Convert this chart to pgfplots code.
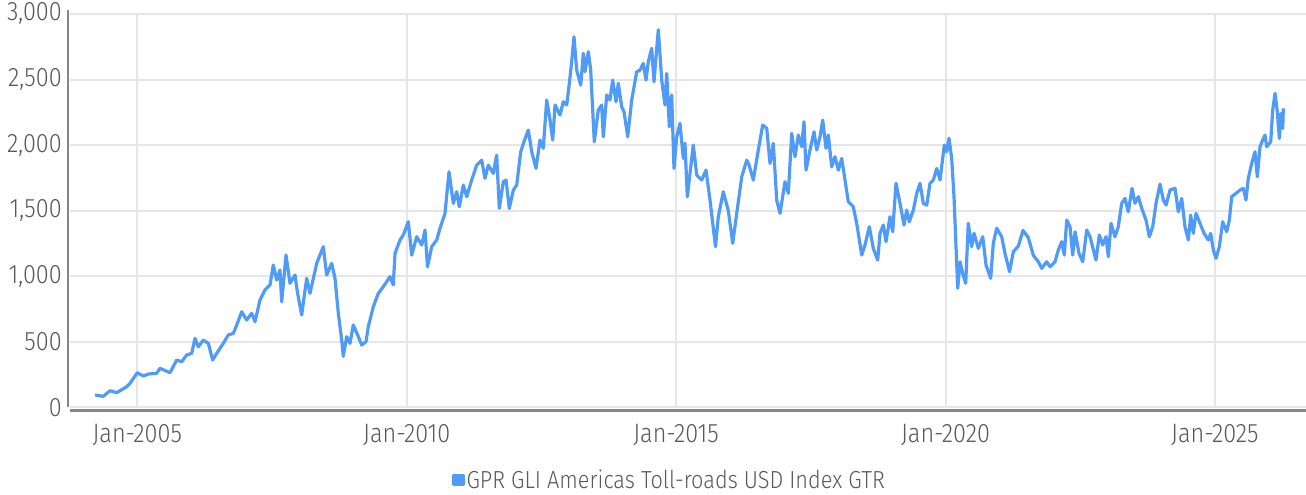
\documentclass[border=0pt]{standalone}
\usepackage{pgfplots}
\pgfplotsset{compat=1.18}
\usepackage{fontspec}
\setmainfont{Fira Sans}[UprightFont=* Light, FakeStretch=0.88]
\definecolor{lineblue}{HTML}{4F9BF7}
\definecolor{txt}{HTML}{595959}
\definecolor{gridc}{HTML}{E6E6E6}
\definecolor{axl}{HTML}{868686}
\begin{document}
\begin{tikzpicture}
\begin{axis}[
  name=ax,
  scale only axis, width=927pt, height=295.125pt,
  xmin=2003.751, xmax=2026.691, ymin=0, ymax=3000,
  axis line style={draw=none},
  major tick length=0pt,
  xtick={2005,2010,2015,2020,2025},
  xticklabels={Jan-2005,Jan-2010,Jan-2015,Jan-2020,Jan-2025},
  ytick={0,500,...,3000},
  scaled y ticks=false,
  /pgf/number format/.cd, 1000 sep={,}, assume math mode=true, /pgfplots/.cd,
  grid=major, grid style={color=gridc, line width=1.5pt},
  tick label style={font=\fontsize{20}{24}\selectfont, text=txt},
  xticklabel style={inner sep=0pt, yshift=-12.5pt},
  yticklabel style={inner sep=0pt, xshift=-6pt},
  legend style={at={(axis description cs:0.485,0)}, anchor=center, yshift=-54.4pt,
    draw=none, fill=none, font=\fontsize{18.5}{22}\selectfont, text=txt,
    inner sep=0pt, nodes={inner sep=1.5pt}},
  legend image code/.code={\fill[lineblue] (0pt,-3.5pt) rectangle (7pt,3.5pt);},
]
\addplot[lineblue, line width=2.4pt, line join=round] table {
x y
2004.215 95
2004.369 85
2004.493 128
2004.618 113
2004.803 159
2004.865 184
2005.000 265
2005.111 240
2005.204 255
2005.360 261
2005.421 299
2005.607 265
2005.731 362
2005.824 349
2005.917 400
2006.010 413
2006.071 527
2006.132 463
2006.225 514
2006.318 489
2006.399 362
2006.474 413
2006.596 489
2006.689 553
2006.782 565
2006.845 629
2006.938 730
2007.030 667
2007.123 718
2007.185 654
2007.277 819
2007.370 896
2007.463 934
2007.524 1086
2007.587 972
2007.648 1048
2007.680 806
2007.760 1162
2007.834 947
2007.927 1010
2007.970 883
2008.051 705
2008.144 985
2008.205 870
2008.330 1099
2008.452 1226
2008.515 1010
2008.608 1099
2008.669 985
2008.731 718
2008.794 514
2008.823 390
2008.886 540
2008.948 489
2009.009 629
2009.102 540
2009.165 476
2009.245 502
2009.287 616
2009.380 768
2009.473 870
2009.566 921
2009.690 997
2009.751 934
2009.783 1175
2009.876 1277
2009.937 1315
2010.030 1416
2010.093 1162
2010.186 1302
2010.279 1239
2010.340 1353
2010.386 1073
2010.464 1226
2010.557 1277
2010.618 1366
2010.711 1480
2010.785 1797
2010.865 1556
2010.928 1645
2010.976 1530
2011.051 1696
2011.114 1607
2011.206 1734
2011.299 1848
2011.392 1886
2011.453 1747
2011.515 1848
2011.607 1785
2011.670 1924
2011.719 1518
2011.793 1721
2011.843 1734
2011.904 1518
2011.979 1658
2012.042 1696
2012.116 1950
2012.177 2026
2012.257 2115
2012.320 1950
2012.400 1823
2012.474 2039
2012.535 1976
2012.598 2344
2012.660 2191
2012.710 2039
2012.753 2306
2012.845 2230
2012.907 2331
2012.970 2306
2013.018 2471
2013.062 2636
2013.105 2826
2013.155 2572
2013.230 2458
2013.278 2700
2013.309 2560
2013.371 2712
2013.415 2572
2013.482 2026
2013.556 2268
2013.619 2306
2013.649 2064
2013.712 2382
2013.773 2344
2013.823 2496
2013.885 2331
2013.927 2471
2013.990 2293
2014.033 2255
2014.102 2064
2014.176 2344
2014.269 2560
2014.330 2572
2014.391 2623
2014.442 2496
2014.484 2636
2014.547 2738
2014.590 2483
2014.627 2674
2014.670 2880
2014.733 2496
2014.794 2306
2014.826 2547
2014.874 2140
2014.918 2382
2014.961 1823
2015.011 2064
2015.072 2166
2015.134 1899
2015.165 2014
2015.208 1607
2015.319 2001
2015.383 1772
2015.475 1734
2015.555 1810
2015.629 1582
2015.731 1226
2015.783 1454
2015.876 1645
2015.969 1500
2016.051 1252
2016.125 1480
2016.218 1759
2016.311 1886
2016.353 1850
2016.433 1734
2016.526 1963
2016.607 2153
2016.682 2128
2016.743 1861
2016.804 2014
2016.867 1582
2016.929 1480
2017.021 1721
2017.083 1633
2017.146 2090
2017.207 1912
2017.268 2077
2017.331 1988
2017.374 2179
2017.411 1810
2017.485 1963
2017.560 2102
2017.610 1963
2017.671 2064
2017.721 2191
2017.782 1976
2017.825 2077
2017.888 1835
2017.949 1912
2018.011 1810
2018.074 1899
2018.135 1734
2018.196 1569
2018.289 1530
2018.352 1404
2018.445 1162
2018.506 1239
2018.586 1378
2018.660 1213
2018.742 1124
2018.785 1328
2018.846 1391
2018.896 1264
2018.970 1454
2019.020 1340
2019.081 1709
2019.156 1556
2019.230 1391
2019.280 1505
2019.328 1416
2019.403 1505
2019.466 1633
2019.527 1709
2019.588 1556
2019.651 1543
2019.712 1709
2019.774 1734
2019.837 1823
2019.898 1734
2019.978 2001
2020.022 1950
2020.065 2052
2020.115 1899
2020.158 1607
2020.195 1226
2020.227 909
2020.270 1111
2020.319 1023
2020.375 947
2020.423 1404
2020.486 1226
2020.529 1328
2020.609 1213
2020.691 1302
2020.752 1086
2020.839 985
2020.887 1252
2020.950 1366
2021.043 1302
2021.104 1175
2021.188 1035
2021.259 1188
2021.351 1230
2021.439 1350
2021.537 1295
2021.630 1160
2021.723 1111
2021.786 1061
2021.878 1111
2021.940 1073
2022.032 1111
2022.094 1200
2022.157 1264
2022.205 1162
2022.250 1429
2022.311 1378
2022.361 1162
2022.404 1340
2022.478 1175
2022.547 1111
2022.621 1353
2022.682 1302
2022.793 1124
2022.855 1315
2022.918 1239
2022.979 1302
2023.022 1150
2023.072 1404
2023.146 1302
2023.207 1378
2023.270 1556
2023.332 1594
2023.393 1492
2023.462 1671
2023.517 1556
2023.579 1607
2023.642 1518
2023.721 1429
2023.783 1302
2023.846 1378
2023.907 1556
2023.981 1703
2024.043 1582
2024.093 1543
2024.167 1658
2024.260 1671
2024.321 1492
2024.384 1594
2024.445 1378
2024.507 1277
2024.551 1467
2024.599 1328
2024.649 1480
2024.724 1404
2024.798 1328
2024.878 1277
2024.922 1328
2024.971 1200
2025.021 1137
2025.082 1226
2025.145 1416
2025.219 1340
2025.268 1429
2025.312 1607
2025.392 1633
2025.466 1658
2025.527 1671
2025.577 1582
2025.620 1747
2025.683 1861
2025.745 1950
2025.787 1759
2025.837 1988
2025.887 2039
2025.930 2077
2025.961 1988
2026.036 2026
2026.073 2268
2026.116 2395
2026.158 2255
2026.196 2052
2026.227 2242
2026.259 2128
2026.270 2280
};
\addlegendentry{GPR GLI Americas Toll-roads USD Index GTR}
\end{axis}
\draw[axl, line width=1.5pt] ([xshift=-1.3pt]ax.south west) -- ([xshift=-1.3pt, yshift=3pt]ax.north west);
\draw[axl, line width=2pt] ([yshift=-2.5pt]ax.south west) -- ([yshift=-2.5pt]ax.south east);
\pgfresetboundingbox
\path[use as bounding box] ([xshift=-52.5pt, yshift=-65.625pt]ax.south west) rectangle ([yshift=10.5pt]ax.north east);
\end{tikzpicture}
\end{document}
